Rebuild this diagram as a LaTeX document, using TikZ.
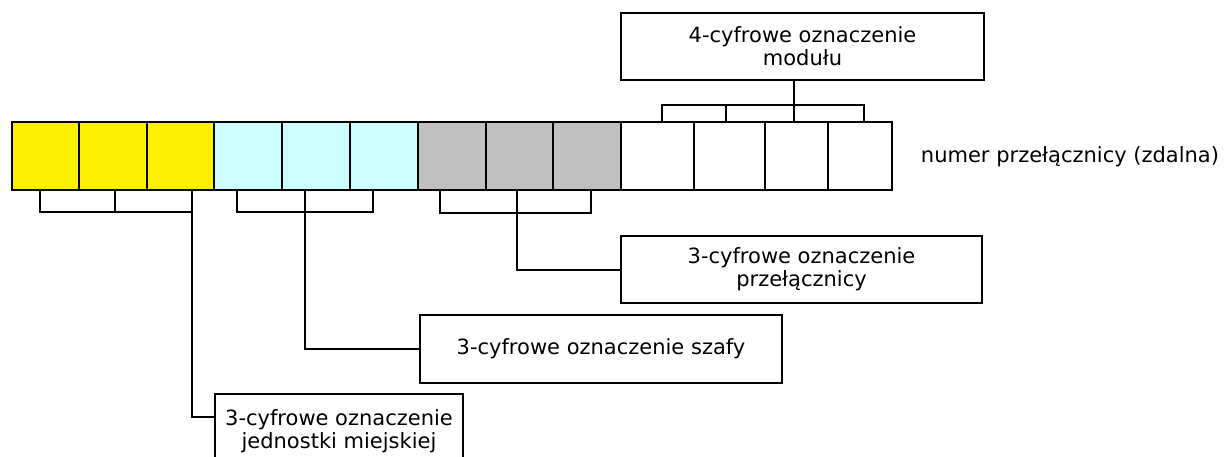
\documentclass[tikz,border=0pt]{standalone}
\usepackage{fontspec}
\setmainfont{DejaVu Sans}
\usetikzlibrary{positioning}

\definecolor{celyellow}{HTML}{FFF000}
\definecolor{celcyan}{HTML}{CCFFFF}
\definecolor{celgray}{HTML}{C0C0C0}

\begin{document}
\begin{tikzpicture}[x=0.5pt,y=-0.5pt,line width=1pt]
  \tikzstyle{cell}=[draw,line width=1pt,minimum height=34pt,inner sep=0pt]
  \tikzstyle{lbox}=[draw,line width=1pt,align=center,inner sep=0pt,font=\fontsize{10.5}{11.5}\selectfont]
  \tikzstyle{link}=[line width=1pt]
  \useasboundingbox (0,0) rectangle (1225,456);
  % pola numeru
  \foreach \l/\r/\c [count=\i] in {12/79/celyellow,79/147/celyellow,147/214/celyellow,
      214/282/celcyan,282/350/celcyan,350/418/celcyan,
      418/486/celgray,486/553/celgray,553/621/celgray,
      621/694/white,694/765/white,765/828/white,828/892/white}
    \node[cell,fill=\c,minimum width={(\r-\l)*0.5pt}] (c\i) at ({(\l+\r)/2},156) {};
  \node[font=\fontsize{10.5}{11.5}\selectfont] (numer) at (1070,157) {numer przełącznicy (zdalna)};
  % opisy
  \node[lbox,minimum width=181.5pt,minimum height=33.5pt] (modul) at (802.5,46.5) {4-cyfrowe oznaczenie\\modułu};
  \node[lbox,minimum width=180.5pt,minimum height=33.5pt] (przel) at (801.5,269.5) {3-cyfrowe oznaczenie\\przełącznicy};
  \node[lbox,minimum width=181pt,minimum height=34pt] (szafa) at (601,349) {3-cyfrowe oznaczenie szafy};
  \node[lbox,minimum width=124pt,minimum height=37pt] (jedn) at (339,431) {3-cyfrowe oznaczenie\\jednostki miejskiej};
  % klamry
  \coordinate (y1) at (40,212);  \coordinate (y2) at (115,212); \coordinate (y3) at (192,212);
  \coordinate (s1) at (237,212); \coordinate (s2) at (305,212); \coordinate (s3) at (373,212);
  \coordinate (g1) at (440,213); \coordinate (g2) at (517,213); \coordinate (g3) at (591,213);
  \coordinate (m1) at (662,105); \coordinate (m2) at (726,105); \coordinate (m3) at (794,105);
  \coordinate (m4) at (864,105);
  \coordinate (jin) at (215,417);
  \draw[link] (y1 |- c1.south) -- (y1) -- (y3) -- (y3 |- c3.south);
  \draw[link] (y2 |- c2.south) -- (y2);
  \draw[link] (y3) |- (jin);
  \draw[link] (s1 |- c4.south) -- (s1) -- (s3) -- (s3 |- c6.south);
  \draw[link] (s2 |- c5.south) -- (s2) |- (szafa.west);
  \draw[link] (g1 |- c7.south) -- (g1) -- (g3) -- (g3 |- c9.south);
  \draw[link] (g2 |- c8.south) -- (g2) |- (przel.west);
  \draw[link] (m1 |- c10.north) -- (m1) -- (m4) -- (m4 |- c13.north);
  \draw[link] (m2 |- c11.north) -- (m2);
  \draw[link] (m3 |- c12.north) -- (m3) -- (m3 |- modul.south);
\end{tikzpicture}
\end{document}
